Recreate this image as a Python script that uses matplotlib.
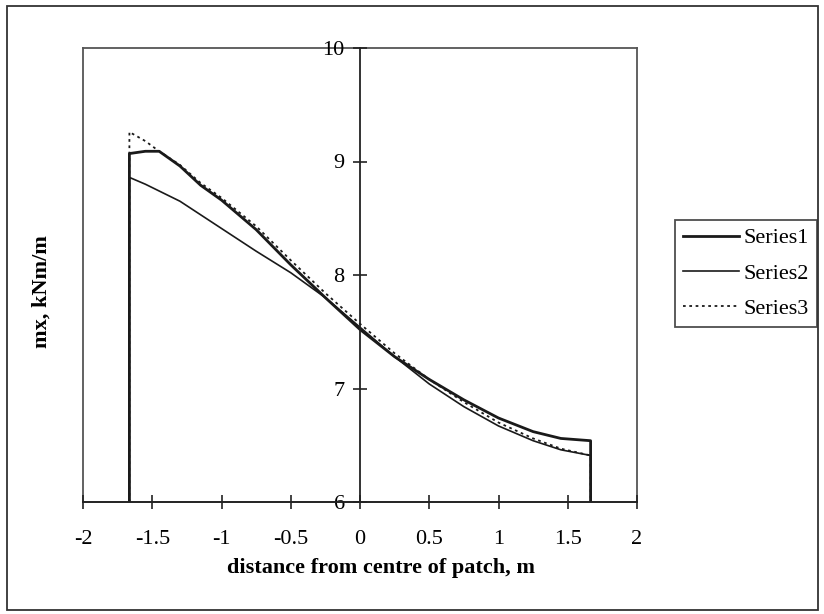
import numpy as np
import matplotlib
matplotlib.use("Agg")
import matplotlib.pyplot as plt
from matplotlib.patches import Rectangle

plt.rcParams["font.family"] = ["Liberation Serif", "DejaVu Serif"]

# distance from centre of patch, m
xs = [-1.665, -1.665, -1.55, -1.45, -1.3, -1.15, -1.0, -0.75, -0.5, -0.25, 0.0,
      0.25, 0.5, 0.75, 1.0, 1.25, 1.45, 1.665, 1.665]

# mx, kNm/m
series1 = [6.0, 9.07, 9.09, 9.09, 8.96, 8.79, 8.66, 8.40, 8.09, 7.80, 7.52,
           7.28, 7.08, 6.90, 6.74, 6.62, 6.56, 6.54, 6.0]
series2 = [6.0, 8.86, 8.80, 8.74, 8.65, 8.53, 8.41, 8.21, 8.02, 7.80, 7.54,
           7.28, 7.04, 6.84, 6.67, 6.54, 6.46, 6.41, 6.0]
series3 = [6.0, 9.26, 9.18, 9.09, 8.97, 8.81, 8.68, 8.43, 8.13, 7.84, 7.57,
           7.31, 7.08, 6.88, 6.70, 6.56, 6.47, 6.41, 6.0]

xticks = [-2, -1.5, -1, -0.5, 0, 0.5, 1, 1.5, 2]
xticklabels = ["-2", "-1.5", "-1", "-0.5", "0", "0.5", "1", "1.5", "2"]
yticks = [6, 7, 8, 9, 10]

W, H = 824, 614
fig = plt.figure(figsize=(W / 100, H / 100), dpi=100)

rect = [83 / W, 1 - 502 / H, (637 - 83) / W, (502 - 48) / H]

# plot area border
frame = fig.add_axes(rect)
frame.set_xticks([])
frame.set_yticks([])
for s in frame.spines.values():
    s.set_color("#555555")
    s.set_linewidth(1.3)
frame.patch.set_visible(False)

ax = fig.add_axes(rect)
ax.patch.set_visible(False)
ax.plot(xs, series3, color="#1a1a1a", lw=1.3, ls=(0, (1.5, 2)), label="Series3")
ax.plot(xs, series2, color="#1a1a1a", lw=1.2, label="Series2")
ax.plot(xs, series1, color="#1a1a1a", lw=2.0, label="Series1")

ax.set_xlim(-2, 2)
ax.set_ylim(6, 10)
ax.spines["left"].set_position(("data", 0))
ax.spines["top"].set_visible(False)
ax.spines["right"].set_visible(False)
for s in ["left", "bottom"]:
    ax.spines[s].set_color("#222222")
    ax.spines[s].set_linewidth(1.3)

ax.set_xticks(xticks)
ax.set_xticklabels(xticklabels)
ax.set_yticks(yticks)
ax.tick_params(axis="both", direction="inout", length=10, width=1.2,
               color="#222222", labelsize=16, pad=6)
ax.tick_params(axis="x", pad=15)

fig.text(42 / W, 1 - 292 / H, "mx, kNm/m", rotation=90, ha="center",
         va="center", fontsize=16, fontweight="bold")
fig.text(381 / W, 1 - 568 / H, "distance from centre of patch, m",
         ha="center", va="center", fontsize=16, fontweight="bold")

handles, labels = ax.get_legend_handles_labels()
leg = ax.legend(handles[::-1], labels[::-1], loc="upper left",
                bbox_to_anchor=(675 / W, 1 - 220 / H),
                bbox_transform=fig.transFigure, fontsize=16, frameon=True,
                fancybox=False, handlelength=2.55, labelspacing=0.67,
                borderpad=0.35, handletextpad=0.2, borderaxespad=0)
leg.get_frame().set_edgecolor("#222222")
leg.get_frame().set_linewidth(1.3)

# chart area border
fig.patches.append(Rectangle((7 / W, 4 / H), (818 - 7) / W, (608 - 4) / H,
                             transform=fig.transFigure, fill=False,
                             edgecolor="#333333", lw=1.3))

plt.savefig("out.png", dpi=100)
